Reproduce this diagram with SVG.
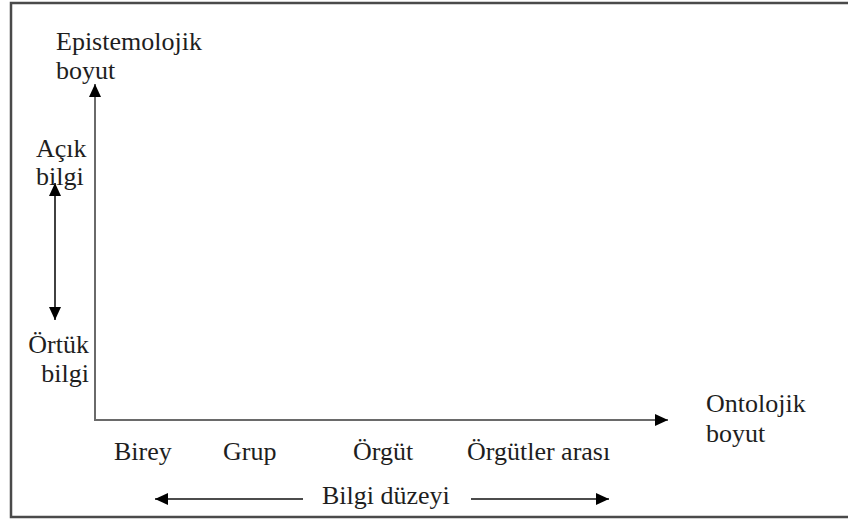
<svg xmlns="http://www.w3.org/2000/svg" width="848" height="521" viewBox="0 0 848 521">
  <style>
    text { font-family: "Liberation Serif", "Times New Roman", "DejaVu Serif", serif; font-size: 26px; fill: #1e1e1e; }
    .axis { stroke: #6a6a6a; stroke-width: 2; fill: none; }
    .arr { stroke: #111; stroke-width: 1.6; fill: none; }
    .frame { stroke: #4a4a4a; stroke-width: 2.5; fill: #fff; }
  </style>
  <defs>
    <marker id="head" viewBox="0 0 13 12" refX="13" refY="6" markerWidth="13" markerHeight="12" markerUnits="userSpaceOnUse" orient="auto-start-reverse">
      <path d="M0,0 L13,6 L0,12 Z" fill="#000"/>
    </marker>
  </defs>

  <!-- outer frame -->
  <rect class="frame" x="11" y="3" width="845" height="514"/>

  <!-- connectors: axes and direction arrows -->
  <g id="connectors">
    <path id="y-axis" class="axis" d="M95,420 L95,84" marker-end="url(#head)"/>
    <path id="x-axis" class="axis" d="M94,420 L668,420" marker-end="url(#head)"/>
    <path id="knowledge-type" class="arr" d="M55,183 L55,320" marker-start="url(#head)" marker-end="url(#head)"/>
    <path id="level-left" class="arr" d="M303,499 L155,499" marker-end="url(#head)"/>
    <path id="level-right" class="arr" d="M471,499 L609,499" marker-end="url(#head)"/>
  </g>

  <g id="epistemological">
    <text x="56" y="50">Epistemolojik</text>
    <text x="56" y="79">boyut</text>
  </g>
  <g id="explicit">
    <text x="36" y="157">Açık</text>
    <text x="36" y="185">bilgi</text>
  </g>
  <g id="tacit">
    <text x="89" y="353" text-anchor="end">Örtük</text>
    <text x="89" y="382" text-anchor="end">bilgi</text>
  </g>
  <g id="ontological">
    <text x="706" y="412">Ontolojik</text>
    <text x="706" y="442">boyut</text>
  </g>
  <g id="individual"><text x="114" y="460">Birey</text></g>
  <g id="group"><text x="223" y="460">Grup</text></g>
  <g id="organization"><text x="353" y="460">Örgüt</text></g>
  <g id="inter-organization"><text x="467" y="460">Örgütler arası</text></g>
  <g id="knowledge-level"><text x="322" y="504">Bilgi düzeyi</text></g>
</svg>
